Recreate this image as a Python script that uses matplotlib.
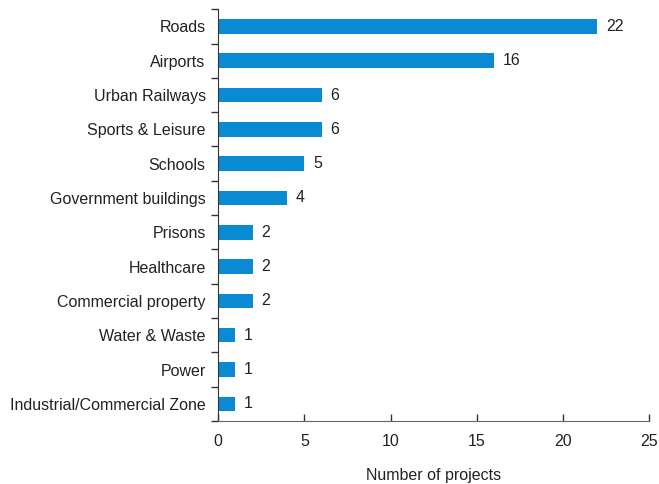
import numpy as np
import matplotlib.pyplot as plt

plt.rcParams['font.family'] = ['Liberation Sans', 'DejaVu Sans']

categories = ['Roads', 'Airports', 'Urban Railways', 'Sports & Leisure', 'Schools',
              'Government buildings', 'Prisons', 'Healthcare', 'Commercial property',
              'Water & Waste', 'Power', 'Industrial/Commercial Zone']
projects = [22, 16, 6, 6, 5, 4, 2, 2, 2, 1, 1, 1]

fs = 11.5
fig = plt.figure(figsize=(6.59, 4.84), dpi=100)
ax = fig.add_axes([0.331, 0.130, 0.654, 0.851])

y = np.arange(len(categories))
ax.barh(y, projects, height=0.42, color='#0a8ad2')
for yi, v in zip(y, projects):
    ax.text(v + 0.5, yi, str(v), va='center', ha='left', fontsize=fs, color='#222222')

ax.set_ylim(len(categories) - 0.5, -0.5)
ax.set_xlim(0, 25)
ax.set_xticks([0, 5, 10, 15, 20, 25])
ax.set_yticks(y)
ax.set_yticklabels(categories)
ax.set_yticks(np.arange(-0.5, len(categories), 1), minor=True)
ax.tick_params(axis='y', which='major', length=0, pad=9, labelsize=fs, labelcolor='#222222')
ax.tick_params(axis='y', which='minor', length=5, direction='out', width=1, color='#333333')
ax.tick_params(axis='x', which='major', length=5, direction='in', width=1, color='#333333',
               pad=9, labelsize=fs, labelcolor='#222222')

for s in ['top', 'right']:
    ax.spines[s].set_visible(False)
ax.spines['left'].set_color('#333333')
ax.spines['bottom'].set_color('#666666')

ax.set_xlabel('Number of projects', fontsize=fs, color='#222222', labelpad=14)

fig.savefig('out.png', dpi=100)
